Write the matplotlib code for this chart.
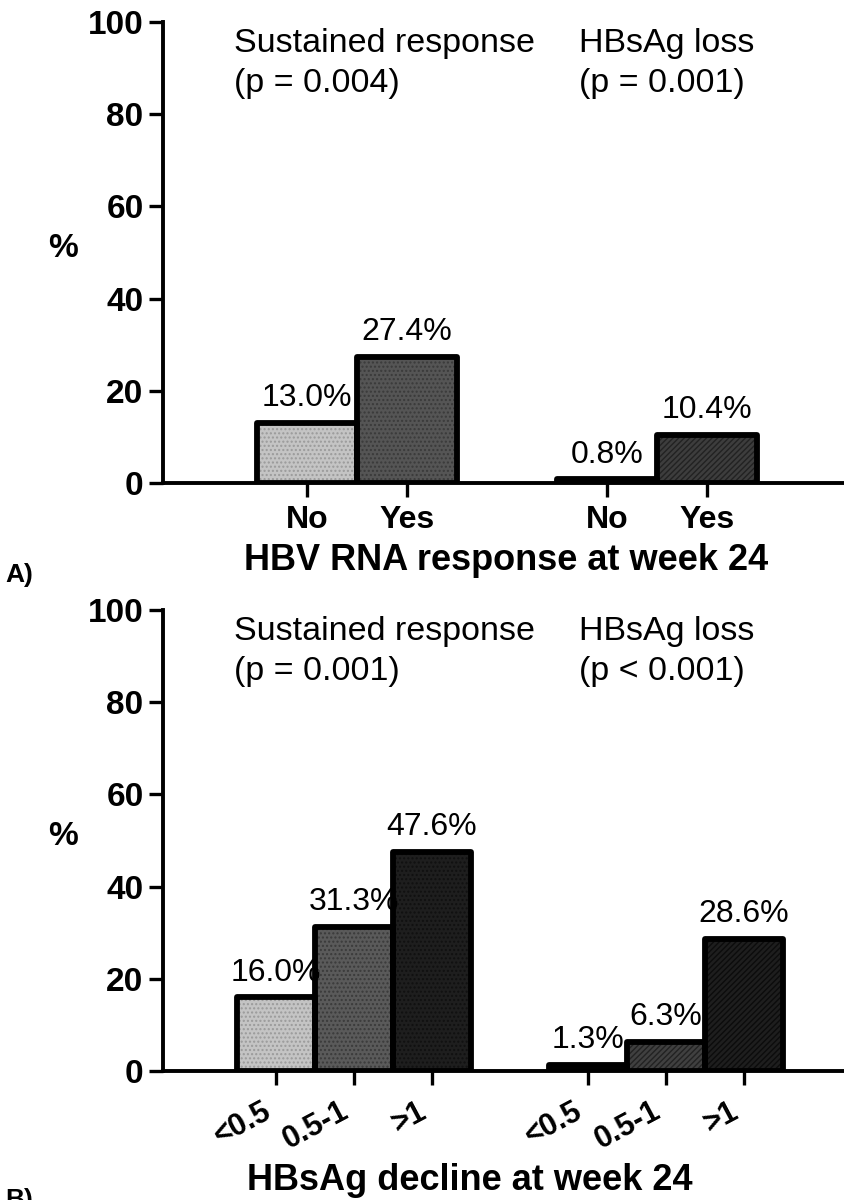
import numpy as np
import matplotlib as mpl
mpl.use('Agg')
from matplotlib import pyplot as plt

plt.rcParams['font.family'] = ['Liberation Sans', 'DejaVu Sans']
plt.rcParams['hatch.linewidth'] = 1.0

#------------------- Data ----------------------
rna_cats = ['No', 'Yes']
rna_sustained = [13.0, 27.4]
rna_loss = [0.8, 10.4]
rna_pvals = ['(p = 0.004)', '(p = 0.001)']

decl_cats = ['<0.5', '0.5-1', '>1']
decl_sustained = [16.0, 31.3, 47.6]
decl_loss = [1.3, 6.3, 28.6]
decl_pvals = ['(p = 0.001)', '(p < 0.001)']

group_titles = ['Sustained response', 'HBsAg loss']

# fill, hatch, hatch colour for each bar
rna_styles = [('#c4c4c4', '....', '#9a9a9a'), ('#555555', '....', '#3a3a3a'),
              ('#111111', None, None), ('#3d3d3d', '//////', '#222222')]
decl_styles = [('#c4c4c4', '....', '#9a9a9a'), ('#5a5a5a', '....', '#3a3a3a'),
               ('#1e1e1e', '....', '#101010'),
               ('#111111', None, None), ('#404040', '//////', '#222222'),
               ('#1e1e1e', '//////', '#0c0c0c')]

fig = plt.figure(figsize=(8.45, 12), dpi=100)
ax1 = fig.add_axes([0.1929, 0.5975, 0.8071, 0.3842])
ax2 = fig.add_axes([0.1929, 0.1075, 0.8071, 0.3842])


def draw_panel(ax, cats, sus, loss, styles, pvals, xlim, xlabel, rot, xlab_pos):
    n = len(cats)
    xs = list(range(n)) + [n + 1 + i for i in range(n)]
    vals = list(sus) + list(loss)
    for x, v, (fc, hatch, hc) in zip(xs, vals, styles):
        ax.bar(x, v, width=1.0, color=fc, linewidth=0, zorder=2)
        if hatch:
            ax.bar(x, v, width=1.0, facecolor='none', edgecolor=hc,
                   hatch=hatch, linewidth=0.5, zorder=3)
        ax.bar(x, v, width=1.0, facecolor='none', edgecolor='black',
               linewidth=4.2, zorder=4, joinstyle='round')
        ax.annotate('%.1f%%' % v, (x, v), xytext=(0, 7),
                    textcoords='offset points', ha='center', va='bottom',
                    fontsize=23)
    ax.set_xlim(*xlim)
    ax.set_ylim(0, 100)
    ax.set_yticks([0, 20, 40, 60, 80, 100])
    ax.set_xticks(xs)
    labels = list(cats) * 2
    if rot:
        ax.set_xticklabels(labels, rotation=28, ha='right', va='top',
                           fontsize=22, fontweight='bold')
        ax.tick_params(axis='x', pad=8)
    else:
        ax.set_xticklabels(labels, fontsize=23, fontweight='bold')
        ax.tick_params(axis='x', pad=6)
    for lab in ax.get_yticklabels():
        lab.set_fontweight('bold')
    ax.tick_params(axis='y', labelsize=24, pad=4)
    ax.tick_params(direction='out', length=10, width=2.4, color='black')
    for s in ['top', 'right']:
        ax.spines[s].set_visible(False)
    for s in ['left', 'bottom']:
        ax.spines[s].set_linewidth(2.8)
    ax.set_ylabel('%', fontsize=24, fontweight='bold', rotation=0,
                  va='center', ha='center')
    ax.yaxis.set_label_coords(-0.146, 0.508)
    ax.set_xlabel(xlabel, fontsize=26, fontweight='bold', va='center')
    ax.xaxis.set_label_coords(*xlab_pos)
    for xpos, title, p in zip([0.104, 0.610], group_titles, pvals):
        ax.text(xpos, 0.935, title, transform=ax.transAxes, ha='left',
                va='baseline', fontsize=24.5)
        ax.text(xpos, 0.848, p, transform=ax.transAxes, ha='left',
                va='baseline', fontsize=24.5)


draw_panel(ax1, rna_cats, rna_sustained, rna_loss, rna_styles, rna_pvals,
           (-1.44, 5.38), 'HBV RNA response at week 24', False, (0.503, -0.168))
draw_panel(ax2, decl_cats, decl_sustained, decl_loss, decl_styles,
           decl_pvals, (-1.45, 7.3), 'HBsAg decline at week 24', True, (0.45, -0.238))

fig.text(0.006, 0.521, 'A)', fontsize=19, fontweight='bold', va='center')
fig.text(0.006, 0.0, 'B)', fontsize=19, fontweight='bold', va='center')

plt.savefig('out.png', dpi=100)
